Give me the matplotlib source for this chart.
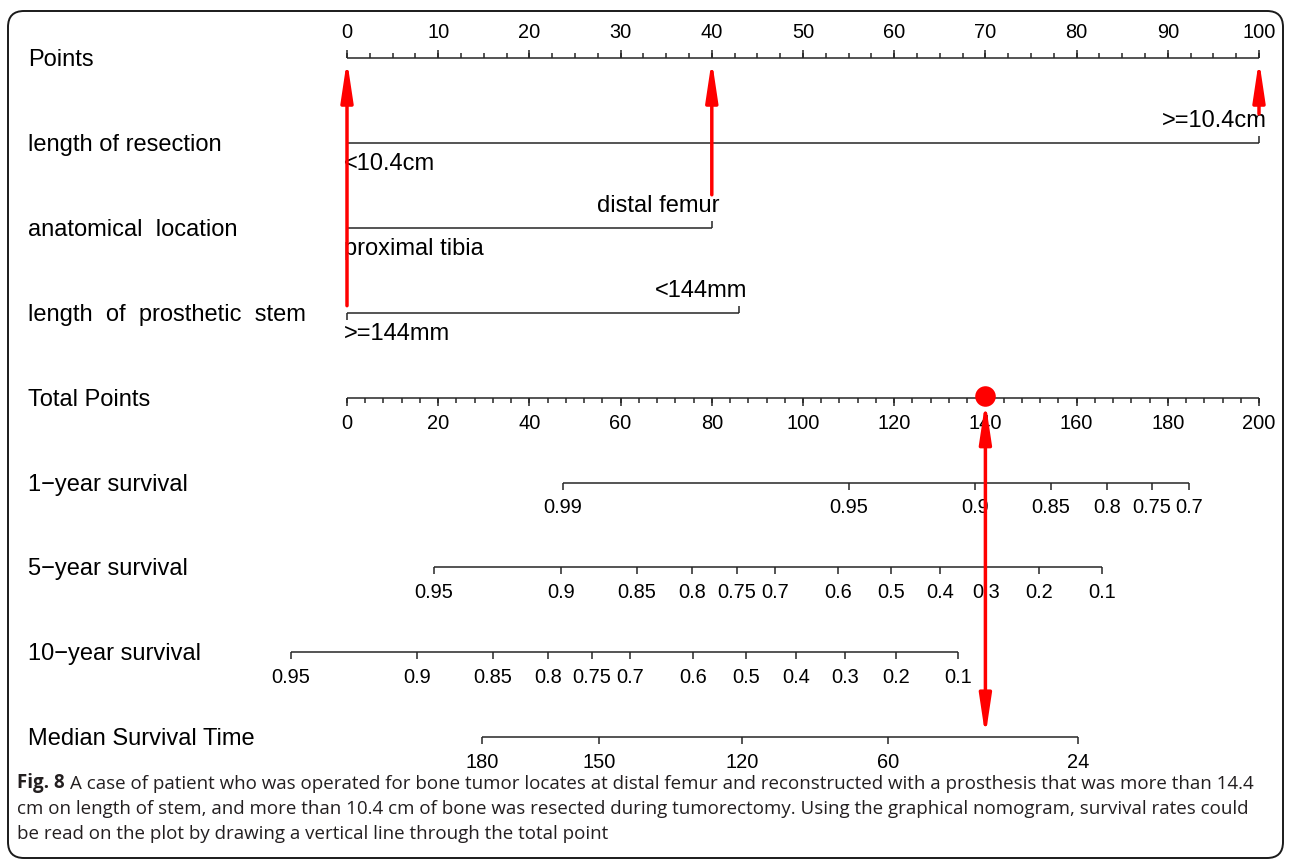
import matplotlib
matplotlib.use("Agg")
import matplotlib.pyplot as plt
from matplotlib.patches import FancyBboxPatch, FancyArrowPatch, ArrowStyle
from matplotlib.transforms import IdentityTransform

# ---------------- data ----------------
row_labels = ["Points", "length of resection", "anatomical  location",
              "length  of  prosthetic  stem", "Total Points",
              "1\u2212year survival", "5\u2212year survival",
              "10\u2212year survival", "Median Survival Time"]

points_ticks = list(range(0, 101, 10))
points_minor_step = 2.5
total_ticks = list(range(0, 201, 20))
total_minor_step = 4

resection_levels = ["<10.4cm", ">=10.4cm"]
resection_points = [0, 100]
location_levels = ["proximal tibia", "distal femur"]
location_points = [0, 40]
stem_levels = [">=144mm", "<144mm"]
stem_points = [0, 43]

surv1_labels = ["0.99", "0.95", "0.9", "0.85", "0.8", "0.75", "0.7"]
surv1_total = [47.4, 110.1, 137.7, 154.4, 166.7, 176.5, 184.6]
surv5_labels = ["0.95", "0.9", "0.85", "0.8", "0.75", "0.7", "0.6", "0.5", "0.4", "0.3", "0.2", "0.1"]
surv5_total = [19.1, 46.9, 63.6, 75.7, 85.5, 93.9, 107.7, 119.3, 130.0, 140.1, 151.8, 165.6]
surv10_labels = ["0.95", "0.9", "0.85", "0.8", "0.75", "0.7", "0.6", "0.5", "0.4", "0.3", "0.2", "0.1"]
surv10_total = [-12.3, 15.4, 32.0, 44.1, 53.7, 62.1, 75.9, 87.5, 98.5, 109.2, 120.4, 134.0]
median_labels = ["180", "150", "120", "60", "24"]
median_total = [29.6, 55.3, 86.6, 118.6, 160.3]

# patient case: selected points per variable
case_points = {"resection": 100, "location": 40, "stem": 0}
case_total = 140

caption_bold = "Fig. 8"
caption_lines = [
    "A case of patient who was operated for bone tumor locates at distal femur and reconstructed with a prosthesis that was more than 14.4",
    "cm on length of stem, and more than 10.4 cm of bone was resected during tumorectomy. Using the graphical nomogram, survival rates could",
    "be read on the plot by drawing a vertical line through the total point",
]

# ---------------- layout ----------------
W, H = 1292, 866
X0 = 347.0          # pixel of 0 points
PPX = 9.12          # pixels per point
R0 = 58.0           # pixel of first row
RSTEP = 84.9        # pixels per row
DX = 1 / PPX
DY = 1 / RSTEP

FONT = "Liberation Sans"
LC = "#262626"
LW = 1.1
RED = "#ff0000"
FS_ROW = 17
FS_LVL = 17
FS_TICK = 14.4

plt.rcParams["font.family"] = [FONT, "DejaVu Sans"]

fig = plt.figure(figsize=(W / 100, H / 100), dpi=100)
ax = fig.add_axes([0, 0, 1, 1])
ax.set_xlim(-X0 / PPX, (W - X0) / PPX)
ax.set_ylim((H - R0) / RSTEP, -R0 / RSTEP)
ax.axis("off")

# row labels
for i, lab in enumerate(row_labels):
    ax.text((28 - X0) * DX, i + 2 * DY, lab, fontsize=FS_ROW, ha="left", va="center")


def hline(y, x1, x2):
    ax.plot([x1, x2], [y, y], color=LC, lw=LW, solid_capstyle="butt")


def vtick(x, y, length_px, direction):
    ax.plot([x, x], [y, y + direction * length_px * DY], color=LC, lw=LW,
            solid_capstyle="butt")


# Points axis (row 0): ticks up, labels above
row = 0
hline(row, min(points_ticks), max(points_ticks))
n_minor = int(round((max(points_ticks) - min(points_ticks)) / points_minor_step))
for k in range(n_minor + 1):
    v = min(points_ticks) + k * points_minor_step
    vtick(v, row, 5, -1)
for v in points_ticks:
    vtick(v, row, 8, -1)
    ax.text(v, row - 25 * DY, str(v), fontsize=FS_TICK, ha="center", va="center")


# categorical variables
def cat_row(row, levels, pts):
    hline(row, min(pts), max(pts))
    for j, (lab, p) in enumerate(zip(levels, pts)):
        if j == 0:   # label below, left-aligned
            vtick(p, row, 7, +1)
            ax.text(p - 3 * DX, row + 21 * DY, lab, fontsize=FS_LVL, ha="left", va="center")
        else:        # label above, right-aligned
            vtick(p, row, 7, -1)
            ax.text(p + 8 * DX, row - 22 * DY, lab, fontsize=FS_LVL, ha="right", va="center")


cat_row(1, resection_levels, resection_points)
cat_row(2, location_levels, location_points)
cat_row(3, stem_levels, stem_points)

# Total points axis (row 4): ticks down, labels below; total t -> t/2 on points scale
row = 4
tscale = 0.5
hline(row, min(total_ticks) * tscale, max(total_ticks) * tscale)
n_minor = int(round((max(total_ticks) - min(total_ticks)) / total_minor_step))
for k in range(n_minor + 1):
    v = min(total_ticks) + k * total_minor_step
    vtick(v * tscale, row, 5, +1)
for v in total_ticks:
    vtick(v * tscale, row, 8, +1)
    ax.text(v * tscale, row + 26 * DY, str(v), fontsize=FS_TICK, ha="center", va="center")


def surv_row(row, labels, totals):
    xs = [t * tscale for t in totals]
    hline(row, min(xs), max(xs))
    for x, lab in zip(xs, labels):
        vtick(x, row, 7, +1)
        ax.text(x, row + 25 * DY, lab, fontsize=FS_TICK, ha="center", va="center")


surv_row(5, surv1_labels, surv1_total)
surv_row(6, surv5_labels, surv5_total)
surv_row(7, surv10_labels, surv10_total)
surv_row(8, median_labels, median_total)

# ---------------- red case arrows ----------------
astyle = ArrowStyle("-|>", head_length=24, head_width=3.6)
dstyle = ArrowStyle("<|-|>", head_length=24, head_width=3.6)


def red_arrow(x, y_from, y_to, style=astyle):
    a = FancyArrowPatch((x, y_from), (x, y_to), arrowstyle=style, mutation_scale=1,
                        color=RED, lw=2.5, shrinkA=0, shrinkB=0, zorder=6)
    ax.add_patch(a)


tip = 0 + 2 * DY
red_arrow(case_points["resection"], 1 - 29 * DY, tip)
red_arrow(case_points["location"], 2 - 33 * DY, tip)
red_arrow(case_points["stem"], 3 - 7 * DY, tip)
red_arrow(case_total * tscale, 4 + 4 * DY, 8 - 1 * DY, style=dstyle)
ax.plot(case_total * tscale, 4 - 2 * DY, "o", ms=14.8, color=RED, mec="none", zorder=7)

# ---------------- frame ----------------
bx0, by0, bx1, by1 = 8, 11, 1283, 858
frame = FancyBboxPatch((bx0, H - by1), bx1 - bx0, by1 - by0,
                       boxstyle="round,pad=0,rounding_size=16",
                       transform=IdentityTransform(), fill=False,
                       ec="#1a1a1a", lw=1.4)
fig.add_artist(frame)

# ---------------- caption ----------------
CAP_FONT = ["Open Sans", "DejaVu Sans"]
CAP_FS = 13.5
CAP_C = "#231f20"
cap_y = [783, 808.5, 834]
cap_x = 17
t0 = fig.text(cap_x / W, 1 - cap_y[0] / H, caption_bold, fontsize=CAP_FS, family=CAP_FONT,
              fontweight="bold", ha="left", va="center", color=CAP_C)
ann = ax.annotate(caption_lines[0], xy=(1, 0), xycoords=t0, xytext=(4, 0),
                  textcoords="offset points", ha="left", va="bottom",
                  fontsize=CAP_FS, family=CAP_FONT, color=CAP_C)
for yy, line in zip(cap_y[1:], caption_lines[1:]):
    fig.text(cap_x / W, 1 - yy / H, line, fontsize=CAP_FS, family=CAP_FONT,
             ha="left", va="center", color=CAP_C)

fig.savefig("out.png", dpi=100)
